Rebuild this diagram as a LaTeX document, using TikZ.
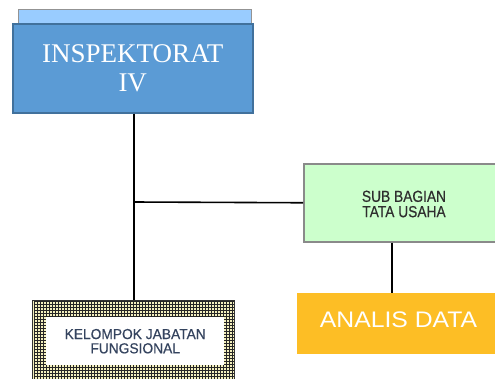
\documentclass[tikz,border=0pt]{standalone}
\usepackage{fontspec}
\setmainfont{Liberation Serif}
\newfontfamily\arialf{Liberation Sans}
\newfontfamily\arialfb[FakeBold=0.5]{Liberation Sans}
\definecolor{backblue}{HTML}{99CCFF}
\definecolor{frontblue}{HTML}{5B9BD5}
\definecolor{frontedge}{HTML}{41719C}
\definecolor{subgreen}{HTML}{CCFFCC}
\definecolor{subedge}{HTML}{8A8A8A}
\definecolor{anorange}{HTML}{FDBE25}
\definecolor{gridbg}{HTML}{F4F0BE}
\definecolor{keltext}{HTML}{34435E}
\definecolor{subtext}{HTML}{2E2E2E}
\tikzset{
  conn/.style={draw=black, line width=1.6pt},
  backbox/.style={draw=gray!85, line width=1pt, fill=backblue, minimum width=233pt, minimum height=16pt, inner sep=0pt},
  inspbox/.style={draw=frontedge, line width=1.5pt, fill=frontblue, text=white, minimum width=240pt, minimum height=89pt, inner sep=0pt, align=center, font=\fontsize{27}{29}\selectfont},
  subbox/.style={draw=subedge, line width=1.5pt, fill=subgreen, text=subtext, minimum width=197pt, minimum height=78pt, inner sep=0pt, align=center},
  anbox/.style={fill=anorange, text=white, minimum width=198pt, minimum height=61pt, inner sep=0pt},
  kelbox/.style={draw=black!80, line width=0.8pt, fill=gridbg, minimum width=202pt, minimum height=80pt, inner sep=0pt,
    path picture={\draw[black!85, line width=0.9pt] ([xshift=1.5pt,yshift=1.5pt]path picture bounding box.south west) grid[step=3pt] (path picture bounding box.north east);}},
  kelin/.style={fill=white, text=keltext, minimum width=178pt, minimum height=48pt, inner sep=0pt, align=center}
}
\begin{document}
\begin{tikzpicture}[x=1pt,y=-1pt]
\useasboundingbox (0,0) rectangle (495,378);
\clip (0,0) rectangle (495,378);
\node[backbox, anchor=north west] (back) at (18,9) {};
\node[inspbox, anchor=north west] (insp) at (12,23) {INSPEKTORAT\\IV};
\node[kelbox, anchor=north west] (kel) at (32,300) {};
\node[kelin, anchor=north west] (kelt) at (46,317) {\scalebox{0.95}[1]{\arialfb\fontsize{14.5}{18}\selectfont\shortstack{KELOMPOK JABATAN\\[1pt]FUNGSIONAL}}};
\node[subbox, anchor=north west] (sub) at (303,163) {};
\node[text=subtext, align=center] (subt) at (404,204) {\scalebox{0.86}[1]{\arialfb\fontsize{16}{20}\selectfont\shortstack{SUB BAGIAN\\[1pt]TATA USAHA}}};
\node[anbox, anchor=north west] (an) at (297,293) {};
\node[text=white] (ant) at (398.5,320) {\scalebox{1.1}[1]{\arialf\fontsize{22.5}{26}\selectfont ANALIS DATA}};
\coordinate (j) at (134,202);
\coordinate (sj) at (392,241);
\draw[conn] (insp.south -| j) -- (kel.north -| j);
\draw[conn] (j) -- (sub.west);
\draw[conn] (sub.south -| sj) -- (an.north -| sj);
\end{tikzpicture}
\end{document}
